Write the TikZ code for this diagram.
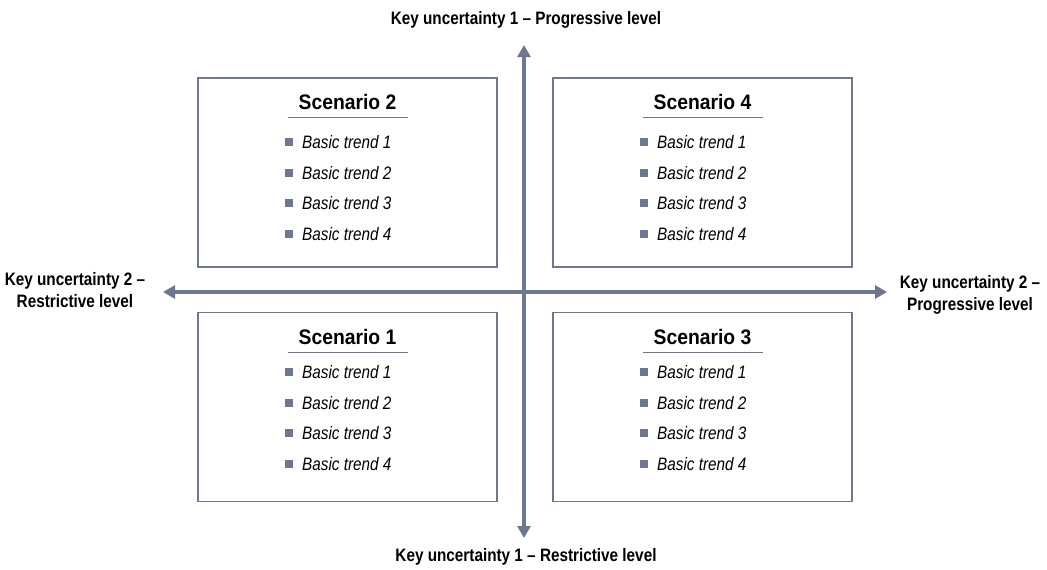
\documentclass[tikz,border=0pt]{standalone}
\usepackage{fontspec}
\setmainfont{Liberation Sans}
\newfontfamily\narrowA[FakeStretch=0.85,Ligatures=TeX]{Liberation Sans}
\newfontfamily\narrowB[FakeStretch=0.92,Ligatures=TeX]{Liberation Sans}
\usetikzlibrary{arrows.meta}
\definecolor{axisgrey}{HTML}{6E7791}
\begin{document}
\begin{tikzpicture}[x=1pt,y=-1pt,
  axislabel/.style={font=\narrowA\fontsize{18}{22}\selectfont\bfseries, align=center, inner sep=0pt},
  scenbox/.style={draw=axisgrey, line width=1.5pt, minimum width=299pt, minimum height=189pt, inner sep=0pt},
  scentitle/.style={font=\narrowB\fontsize{21}{24}\selectfont\bfseries, inner sep=0pt},
  trend/.style={font=\narrowA\fontsize{18}{20}\selectfont\itshape, anchor=west, inner sep=0pt},
  bul/.style={fill=axisgrey, minimum size=8pt, inner sep=0pt},
  axis/.style={draw=axisgrey, line width=4pt, {Triangle[length=12pt,width=13pt]}-{Triangle[length=12pt,width=13pt]}}
]
\useasboundingbox (0,0) rectangle (1047,570);
% axes
\coordinate (vtop) at (524,45);
\coordinate (vbot) at (524,538);
\coordinate (hleft) at (163,292);
\coordinate (hright) at (887,292);
\draw[axis] (vbot) -- (vtop);
\draw[axis] (hleft) -- (hright);
% axis labels
\node[axislabel] (ltop) at (526,20) {Key uncertainty 1 – Progressive level};
\node[axislabel] (lbot) at (526,557) {Key uncertainty 1 – Restrictive level};
\node[axislabel] (lleft) at (75,290) {Key uncertainty 2 –\\Restrictive level};
\node[axislabel] (lright) at (970,295) {Key uncertainty 2 –\\Progressive level};
% boxes
\foreach \nm/\cx/\cy in {s2/347.5/172.5, s4/702.5/172.5, s1/347.5/407, s3/702.5/407}{
  \node[scenbox] (\nm) at (\cx,\cy) {};
}
\foreach \nm/\cx/\ty/\iy/\lab in {s2/347.5/102/142/2, s4/702.5/102/142/4, s1/347.5/337/372/1, s3/702.5/337/372/3}{
  \node[scentitle] (\nm t) at (\cx,\ty) {Scenario \lab};
  \draw[axisgrey, line width=0.8pt] ([xshift=-60pt]\cx,\ty+15.5) -- ([xshift=60pt]\cx,\ty+15.5);
  \foreach \k in {1,2,3,4}{
    \node[bul] (\nm b\k) at (\cx-58.5,\iy+\k*30.7-30.7) {};
    \node[trend] (\nm i\k) at (\cx-45.5,\iy+\k*30.7-30.7) {Basic trend \k};
  }
}
\end{tikzpicture}
\end{document}
